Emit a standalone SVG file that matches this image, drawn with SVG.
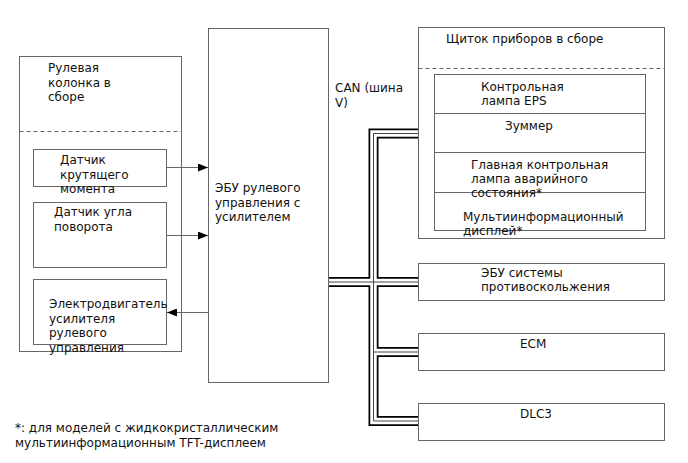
<svg xmlns="http://www.w3.org/2000/svg" width="688" height="463" viewBox="0 0 688 463">
<defs>
<style>
.box{fill:#fff;stroke:#666;stroke-width:1}
.dash{stroke:#666;stroke-width:1;stroke-dasharray:4,3;fill:none}
.t{font-family:"DejaVu Sans",sans-serif;font-size:12px;fill:#111}
.wire{stroke:#666;stroke-width:1;fill:none}
.bo{stroke:#000;stroke-width:10;fill:none;stroke-linejoin:miter;stroke-linecap:butt}
.bw{stroke:#fff;stroke-width:6.5;fill:none;stroke-linejoin:miter;stroke-linecap:butt}
.bm{stroke:#444;stroke-width:1;fill:none}
</style>
<marker id="ah" viewBox="0 0 10 8" refX="10" refY="4" markerWidth="10" markerHeight="8" markerUnits="userSpaceOnUse" orient="auto">
<path d="M0,0 L10,4 L0,8 z" fill="#000"/>
</marker>
</defs>
<rect width="688" height="463" fill="#fff"/>

<g id="steering-column">
<rect class="box" x="19.5" y="56.5" width="162" height="295"/>
<line class="dash" x1="19.5" y1="131.5" x2="181.5" y2="131.5"/>
<text class="t" x="48"><tspan x="48" y="72">Рулевая</tspan><tspan x="48" y="86.5">колонка в</tspan><tspan x="48" y="101">сборе</tspan></text>
</g>
<g id="torque-sensor">
<rect class="box" x="33.5" y="149.5" width="133" height="37"/>
<text class="t"><tspan x="60" y="164">Датчик</tspan><tspan x="60" y="178.5">крутящего</tspan><tspan x="60" y="193">момента</tspan></text>
</g>
<g id="angle-sensor">
<rect class="box" x="33.5" y="202.5" width="133" height="65"/>
<text class="t"><tspan x="54" y="216">Датчик угла</tspan><tspan x="54" y="230.5">поворота</tspan></text>
</g>
<g id="motor">
<rect class="box" x="33.5" y="279.5" width="133" height="65"/>
<text class="t"><tspan x="49" y="308">Электродвигатель</tspan><tspan x="49" y="322.5">усилителя</tspan><tspan x="49" y="337">рулевого</tspan><tspan x="49" y="351.5">управления</tspan></text>
</g>
<g id="eps-ecu">
<rect class="box" x="208.5" y="28.5" width="120" height="354"/>
<text class="t"><tspan x="215" y="192">ЭБУ рулевого</tspan><tspan x="215" y="206.5">управления с</tspan><tspan x="215" y="221">усилителем</tspan></text>
</g>
<g id="can-label">
<text class="t"><tspan x="335" y="92">CAN (шина</tspan><tspan x="335" y="106.5">V)</tspan></text>
</g>
<g id="cluster">
<rect class="box" x="418.5" y="27.5" width="246" height="211"/>
<line class="dash" x1="418.5" y1="68.5" x2="664.5" y2="68.5"/>
<text class="t" x="446" y="43">Щиток приборов в сборе</text>
<rect class="box" x="434.5" y="74.5" width="211" height="156"/>
<line class="wire" x1="434.5" y1="113.5" x2="645.5" y2="113.5"/>
<line class="wire" x1="434.5" y1="152.5" x2="645.5" y2="152.5"/>
<line class="wire" x1="434.5" y1="192.5" x2="645.5" y2="192.5"/>
<text class="t"><tspan x="481" y="90.5">Контрольная</tspan><tspan x="481" y="105">лампа EPS</tspan></text>
<text class="t" x="505" y="130">Зуммер</text>
<text class="t"><tspan x="471" y="169">Главная контрольная</tspan><tspan x="471" y="183">лампа аварийного</tspan><tspan x="471" y="196.5">состояния*</tspan></text>
<text class="t"><tspan x="463" y="221">Мультиинформационный</tspan><tspan x="463" y="235">дисплей*</tspan></text>
</g>
<g id="abs-ecu">
<rect class="box" x="418.5" y="263.5" width="246" height="37"/>
<text class="t"><tspan x="481" y="276.5">ЭБУ системы</tspan><tspan x="481" y="291">противоскольжения</tspan></text>
</g>
<g id="ecm">
<rect class="box" x="418.5" y="333.5" width="246" height="37"/>
<text class="t" x="520" y="347.5">ECM</text>
</g>
<g id="dlc3">
<rect class="box" x="418.5" y="403.5" width="246" height="37"/>
<text class="t" x="520" y="417.5">DLC3</text>
</g>
<g id="footnote">
<text class="t"><tspan x="15" y="432">*: для моделей с жидкокристаллическим</tspan><tspan x="15" y="447">мультиинформационным TFT-дисплеем</tspan></text>
</g>

<g id="connectors">
<line class="wire" x1="167" y1="167.5" x2="208" y2="167.5" marker-end="url(#ah)"/>
<line class="wire" x1="167" y1="235.5" x2="208" y2="235.5" marker-end="url(#ah)"/>
<line class="wire" x1="208" y1="312.5" x2="167" y2="312.5" marker-end="url(#ah)"/>
<g id="can-bus">
<path class="bo" d="M418,133.5 H373.5 V421 H418"/>
<path class="bo" d="M329,282 H418"/>
<path class="bo" d="M373.5,352 H418"/>
<path class="bw" d="M418,133.5 H373.5 V421 H418"/>
<path class="bw" d="M329,282 H418"/>
<path class="bw" d="M373.5,352 H418"/>
<path class="bm" d="M418,133.5 H373.5 V421 H418"/>
<path class="bm" d="M329,282 H418"/>
<path class="bm" d="M373.5,352 H418"/>
</g>
</g>
</svg>
